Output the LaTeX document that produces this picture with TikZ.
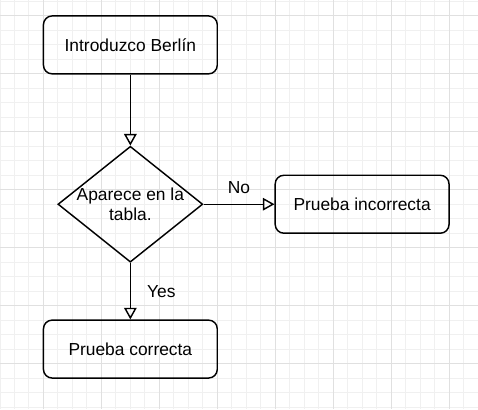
\documentclass[tikz,border=0pt]{standalone}
\usepackage{fontspec}
\setmainfont{Liberation Sans}
\usetikzlibrary{shapes.geometric,arrows.meta,positioning}

\begin{document}
\begin{tikzpicture}[x=0.75pt,y=-0.75pt,
    box/.style={draw,rounded corners=4.5pt,minimum width=90pt,minimum height=30pt,line width=0.75pt,font=\fontsize{9}{10.5}\selectfont},
    decision/.style={draw,diamond,minimum width=75pt,minimum height=60pt,inner sep=0pt,line width=0.75pt},
    flow/.style={line width=0.75pt,-{Triangle[open,length=6pt,width=6.5pt]}},
    lbl/.style={font=\fontsize{9}{10.5}\selectfont}]

    \def\page{(-30,-11) rectangle (300,271.7)}

    %background grid:
    \useasboundingbox \page;
    \fill[white] \page;
    \foreach \x in {-30,-20,...,300} \draw[black!6,line width=0.5pt] (\x,-11) -- (\x,271.7);
    \foreach \y in {-10,0,...,270} \draw[black!6,line width=0.5pt] (-30,\y) -- (300,\y);
    \foreach \x in {0,40,...,280} \draw[black!12,line width=0.5pt] (\x,-11) -- (\x,271.7);
    \foreach \y in {0,40,...,240} \draw[black!12,line width=0.5pt] (-30,\y) -- (300,\y);

    %steps:
    \node[box] (start) at (60,20) {Introduzco Berlín};
    \node[decision] (check) at (60,130) {};
    \node[lbl,align=center] (checktext) at (check) {Aparece en la\\tabla.};
    \node[box] (incorrect) at (220,130) {Prueba incorrecta};
    \node[box] (correct) at (60,230) {Prueba correcta};

    %arrows:
    \draw[flow] (start) -- (check);
    \draw[flow] (check) -- node[lbl,above=2pt] (nolbl) {No} (incorrect);
    \draw[flow] (check) -- node[lbl,right=5pt] (yeslbl) {Yes} (correct);

\end{tikzpicture}
\end{document}
